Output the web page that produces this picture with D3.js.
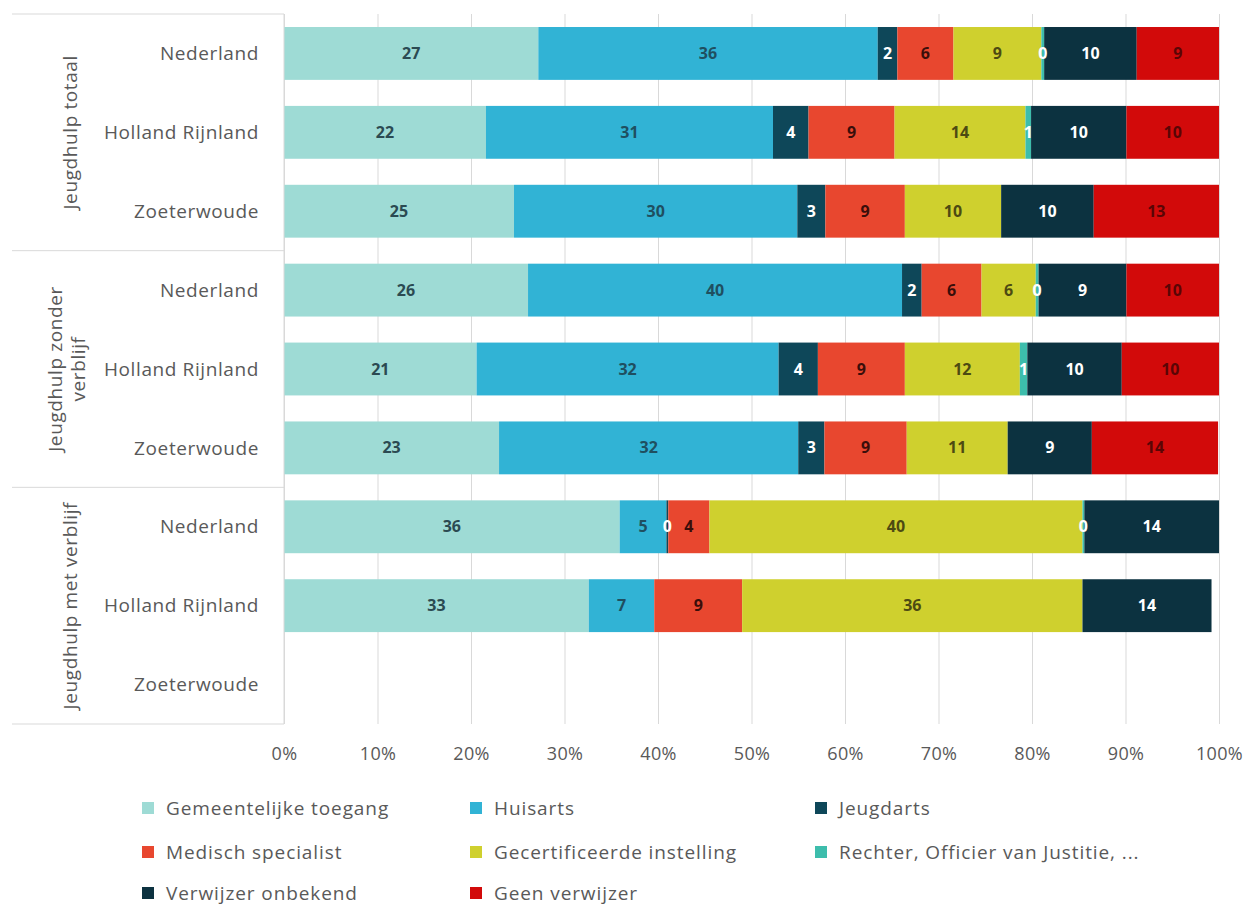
<!DOCTYPE html>
<html>
<head>
<meta charset="utf-8">
<script src="https://cdn.jsdelivr.net/npm/d3@7"></script>
<style>
  html, body { margin: 0; padding: 0; background: #fff; }
  svg { display: block; font-family: "Open Sans", Lato, sans-serif; }
</style>
</head>
<body>
<svg id="chart" width="1248" height="908"></svg>
<script>
// ---- data ----
const groups = ["Jeugdhulp totaal", "Jeugdhulp zonder verblijf", "Jeugdhulp met verblijf"];
const regions = ["Nederland", "Holland Rijnland", "Zoeterwoude"];
const seriesNames = ["Gemeentelijke toegang", "Huisarts", "Jeugdarts", "Medisch specialist",
  "Gecertificeerde instelling", "Rechter, Officier van Justitie, ...", "Verwijzer onbekend", "Geen verwijzer"];
// values per row: totaal NL, HR, ZW; zonder NL, HR, ZW; met NL, HR, ZW
const gemeentelijkeToegang = [27.2, 21.6, 24.6, 26.1, 20.6, 23.0, 35.9, 32.6, null];
const huisarts             = [36.3, 30.7, 30.3, 40.0, 32.3, 32.0, 5.0, 7.0, null];
const jeugdarts            = [2.1, 3.8, 3.0, 2.1, 4.2, 2.8, 0.2, null, null];
const medischSpecialist    = [6.0, 9.2, 8.5, 6.4, 9.3, 8.8, 4.4, 9.4, null];
const gecertificeerde      = [9.4, 14.0, 10.3, 5.8, 12.3, 10.8, 39.9, 36.4, null];
const rechter              = [0.3, 0.6, null, 0.3, 0.8, null, 0.2, null, null];
const verwijzerOnbekend    = [9.9, 10.2, 9.9, 9.4, 10.1, 9.0, 14.4, 13.8, null];
const geenVerwijzer        = [8.8, 9.9, 13.4, 9.9, 10.4, 13.5, null, null, null];
const xTicks = [0, 10, 20, 30, 40, 50, 60, 70, 80, 90, 100];

const seriesValues = [gemeentelijkeToegang, huisarts, jeugdarts, medischSpecialist,
  gecertificeerde, rechter, verwijzerOnbekend, geenVerwijzer];
const colors = ["#9edbd5", "#31b3d5", "#0e4759", "#e8472f", "#cfd02e", "#3dbdac", "#0c3240", "#d20a0a"];
const labelColors = ["#2b4a52", "#1f4f60", "#ffffff", "#3a0e0a", "#4d4a12", "#ffffff", "#ffffff", "#5a0505"];

// rows
const rows = [];
groups.forEach((g, gi) => regions.forEach((r, ri) => {
  const idx = gi * 3 + ri;
  const row = { key: g + "|" + r, group: g, region: r, idx };
  seriesNames.forEach((s, si) => { row[s] = seriesValues[si][idx]; });
  rows.push(row);
}));

// ---- layout ----
const svg = d3.select("#chart");
const plotLeft = 284, plotRight = 1219, plotTop = 14, plotBottom = 724;
const x = d3.scaleLinear().domain([0, 100]).range([plotLeft, plotRight]);
const y = d3.scaleBand().domain(rows.map(d => d.key)).range([plotTop, plotBottom]).paddingInner(0.33).paddingOuter(0.165);
const textColor = "#595959";
const font = "'Open Sans', Lato, sans-serif";

// gridlines
svg.append("g")
  .attr("transform", `translate(0,${plotBottom})`)
  .call(d3.axisBottom(x).tickValues(xTicks).tickSize(-(plotBottom - plotTop)).tickFormat(""))
  .call(g => g.select(".domain").remove())
  .call(g => g.selectAll("line").attr("stroke", "#d9d9d9").attr("stroke-width", 1));

// x axis labels
svg.append("g")
  .attr("transform", `translate(0,${plotBottom + 20})`)
  .call(d3.axisBottom(x).tickValues(xTicks).tickSize(0).tickFormat(d => d + "%"))
  .call(g => g.select(".domain").remove())
  .call(g => g.selectAll("text").attr("fill", textColor).attr("font-size", 18)
    .attr("letter-spacing", "0.3px").attr("font-family", font));

// stacked bars
const stack = d3.stack().keys(seriesNames).value((d, k) => d[k] == null ? 0 : d[k]);
const stacked = stack(rows);

const layers = svg.append("g").selectAll("g").data(stacked).join("g")
  .attr("fill", (d, i) => colors[i]);
layers.selectAll("rect")
  .data(d => d.map(p => ({ p, row: p.data, key: d.key })))
  .join("rect")
  .filter(d => d.row[d.key] != null)
  .attr("x", d => x(d.p[0]))
  .attr("y", d => y(d.row.key))
  .attr("width", d => x(d.p[1]) - x(d.p[0]))
  .attr("height", y.bandwidth());

// data labels
const labels = svg.append("g");
stacked.forEach((layer, si) => {
  layer.forEach(p => {
    const v = p.data[layer.key];
    if (v == null) return;
    labels.append("text")
      .attr("x", x((p[0] + p[1]) / 2))
      .attr("y", y(p.data.key) + y.bandwidth() / 2)
      .attr("dy", "0.35em")
      .attr("text-anchor", "middle")
      .attr("font-size", 16)
      .attr("font-weight", "bold")
      .attr("fill", labelColors[si])
      .text(Math.round(v));
  });
});

// left category box
const boxLeft = 12;
const lineColor = "#d9d9d9";
[0, 3, 6, 9].forEach(i => {
  const yy = i === 0 ? plotTop : (i < 9 ? y(rows[i].key) - y.step() * y.paddingInner() / 2 : plotBottom);
  svg.append("line").attr("x1", boxLeft).attr("x2", plotLeft)
    .attr("y1", yy).attr("y2", yy)
    .attr("stroke", lineColor).attr("stroke-width", 1);
});
svg.append("line").attr("x1", plotLeft).attr("x2", plotLeft)
  .attr("y1", plotTop).attr("y2", plotBottom).attr("stroke", lineColor);

// region labels
svg.append("g").selectAll("text").data(rows).join("text")
  .attr("x", 259)
  .attr("y", d => y(d.key) + y.bandwidth() / 2)
  .attr("dy", "0.35em")
  .attr("text-anchor", "end")
  .attr("font-size", 19)
  .attr("letter-spacing", "0.6px")
  .attr("fill", textColor)
  .text(d => d.region);

// group labels (rotated)
const groupLines = [["Jeugdhulp totaal"], ["Jeugdhulp zonder", "verblijf"], ["Jeugdhulp met verblijf"]];
groups.forEach((g, gi) => {
  const cy = (y(rows[gi * 3].key) + y(rows[gi * 3 + 2].key) + y.bandwidth()) / 2;
  const lines = groupLines[gi];
  const t = svg.append("text")
    .attr("transform", `translate(${70},${cy}) rotate(-90)`)
    .attr("text-anchor", "middle")
    .attr("font-size", 19)
    .attr("letter-spacing", "0.6px")
    .attr("fill", textColor);
  lines.forEach((ln, li) => {
    t.append("tspan").attr("x", 0)
      .attr("dy", li === 0 ? (lines.length === 1 ? "0.35em" : "-0.4em") : "1.2em")
      .text(ln);
  });
});

// legend
const legendX = [142, 470, 815];
const legendY = [808, 852, 893];
const legend = svg.append("g");
seriesNames.forEach((s, i) => {
  const col = i % 3, row = Math.floor(i / 3);
  const gx = legendX[col], gy = legendY[row];
  legend.append("rect").attr("x", gx).attr("y", gy - 6).attr("width", 12).attr("height", 12)
    .attr("fill", colors[i]);
  legend.append("text").attr("x", gx + 24).attr("y", gy).attr("dy", "0.35em")
    .attr("font-size", 19).attr("letter-spacing", "0.9px").attr("fill", textColor).text(s);
});
</script>
</body>
</html>
